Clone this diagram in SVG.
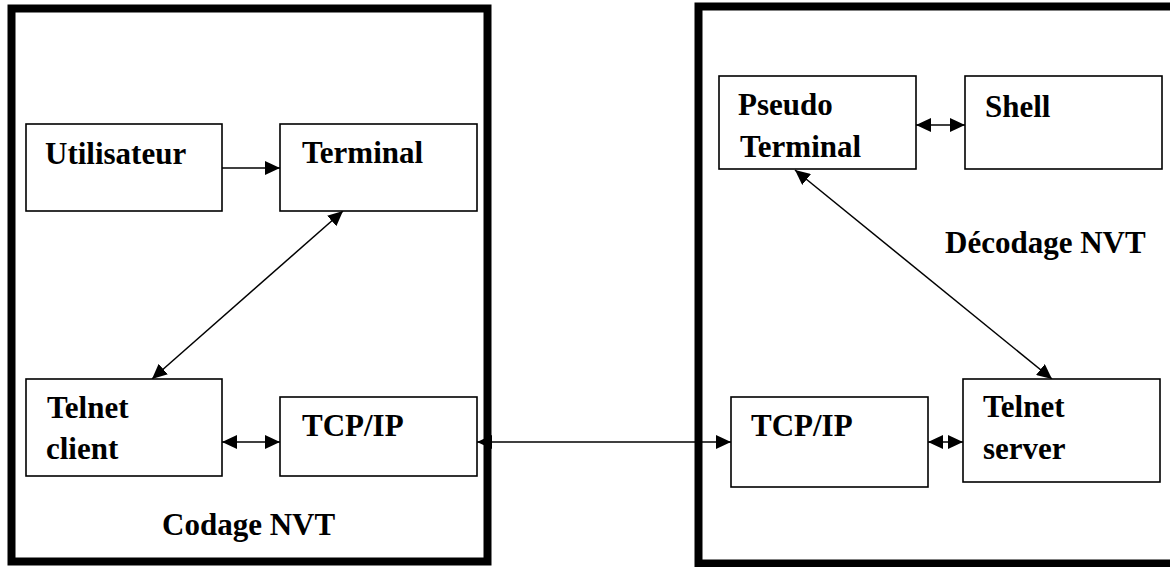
<svg xmlns="http://www.w3.org/2000/svg" width="1170" height="567" viewBox="0 0 1170 567">
<style>
.outer{fill:none;stroke:#000;stroke-width:8}
.box{fill:#fff;stroke:#000;stroke-width:1.6}
.lbl{font-family:"Liberation Serif","Times New Roman",serif;font-weight:bold;font-size:31px;fill:#000}
.con{fill:none;stroke:#000;stroke-width:1.5}
</style>
<defs>
<marker id="ah" viewBox="0 0 15 14" refX="15" refY="7" markerWidth="15" markerHeight="14" markerUnits="userSpaceOnUse" orient="auto-start-reverse">
<path d="M0,0 L15,7 L0,14 z" fill="#000"/>
</marker>
</defs>
<rect width="1170" height="567" fill="#fff"/>
<g id="client-side">
<rect class="outer" x="11.5" y="8.5" width="476" height="553"/>
<text class="lbl" x="162" y="535">Codage NVT</text>
</g>
<g id="server-side">
<rect class="outer" x="698.5" y="6.5" width="490" height="557"/>
<text class="lbl" x="945" y="253">Décodage NVT</text>
</g>
<g id="connectors">
<line class="con" x1="222" y1="168" x2="280" y2="168" marker-end="url(#ah)"/>
<line class="con" x1="343" y1="211" x2="152" y2="379" marker-start="url(#ah)" marker-end="url(#ah)"/>
<line class="con" x1="222" y1="442" x2="280" y2="442" marker-start="url(#ah)" marker-end="url(#ah)"/>
<line class="con" x1="477" y1="442" x2="731" y2="442" marker-start="url(#ah)" marker-end="url(#ah)"/>
<line class="con" x1="916" y1="125" x2="965" y2="125" marker-start="url(#ah)" marker-end="url(#ah)"/>
<line class="con" x1="795" y1="170" x2="1052" y2="379" marker-start="url(#ah)" marker-end="url(#ah)"/>
<line class="con" x1="928" y1="442" x2="963" y2="442" marker-start="url(#ah)" marker-end="url(#ah)"/>
</g>
<g id="utilisateur">
<rect class="box" x="26" y="124" width="196" height="87"/>
<text class="lbl" x="45" y="164">Utilisateur</text>
</g>
<g id="terminal">
<rect class="box" x="280" y="124" width="197" height="87"/>
<text class="lbl" x="302" y="163">Terminal</text>
</g>
<g id="telnet-client">
<rect class="box" x="26" y="379" width="196" height="97"/>
<text class="lbl" x="47" y="418">Telnet</text>
<text class="lbl" x="46" y="459">client</text>
</g>
<g id="tcpip-client">
<rect class="box" x="280" y="397" width="197" height="79"/>
<text class="lbl" x="302" y="436">TCP/IP</text>
</g>
<g id="pseudo-terminal">
<rect class="box" x="719" y="76" width="197" height="93"/>
<text class="lbl" x="738" y="115">Pseudo</text>
<text class="lbl" x="740" y="157">Terminal</text>
</g>
<g id="shell">
<rect class="box" x="965" y="76" width="197" height="93"/>
<text class="lbl" x="985" y="117">Shell</text>
</g>
<g id="tcpip-server">
<rect class="box" x="731" y="397" width="197" height="90"/>
<text class="lbl" x="751" y="436">TCP/IP</text>
</g>
<g id="telnet-server">
<rect class="box" x="963" y="379" width="197" height="103"/>
<text class="lbl" x="983" y="417">Telnet</text>
<text class="lbl" x="983" y="459">server</text>
</g>
</svg>
